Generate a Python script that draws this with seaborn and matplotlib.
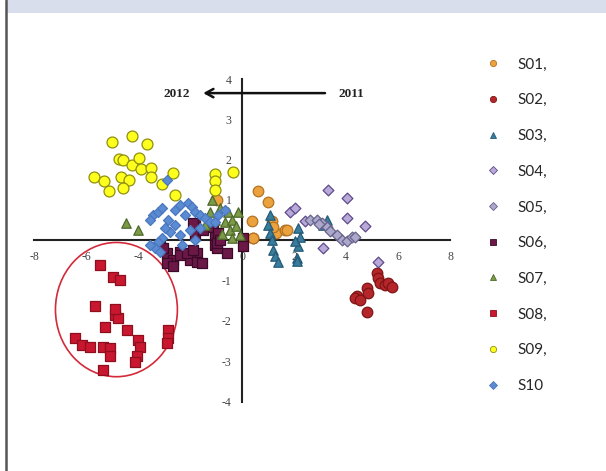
import numpy as np
import pandas as pd
import matplotlib
matplotlib.use("Agg")
import matplotlib.pyplot as plt
from matplotlib.patches import Ellipse, Rectangle
from matplotlib.lines import Line2D
import seaborn as sns

# ---- data: principal component scores per site ----
series = ["S01", "S02", "S03", "S04", "S05", "S06", "S07", "S08", "S09", "S10"]
legend_labels = ["S01,", "S02,", "S03,", "S04,", "S05,", "S06,", "S07,", "S08,", "S09,", "S10"]

s01_x = [0.63, 1.01, 0.37, 0.41, 1.14, 1.31, 1.65, 1.20, -0.95, 0.43, 1.72]
s01_y = [1.21, 0.94, 0.47, 0.05, 0.47, 0.18, 0.26, 0.34, 1.00, 0.05, 0.26]

s02_x = [5.18, 5.24, 5.31, 5.50, 5.63, 5.76, 4.80, 4.86, 4.41, 4.35, 4.54, 4.80]
s02_y = [-0.81, -0.94, -1.06, -1.10, -1.06, -1.15, -1.19, -1.31, -1.39, -1.43, -1.48, -1.77]

s03_x = [1.08, 1.01, 1.08, 1.14, 1.20, 1.27, 1.40, 2.17, 2.23, 2.17, 2.10, 2.04, 2.10, 3.26, 3.13]
s03_y = [0.63, 0.38, 0.18, 0.01, -0.24, -0.40, -0.55, 0.30, 0.09, -0.15, -0.44, -0.03, -0.52, 0.51, 0.38]

s04_x = [1.85, 2.04, 3.32, 4.03, 4.03, 4.73, 3.13, 5.24, 2.42]
s04_y = [0.71, 0.80, 1.25, 1.05, 0.55, 0.36, -0.18, -0.53, 0.47]

s05_x = [2.62, 2.87, 3.06, 3.26, 3.38, 3.64, 3.83, 4.03, 4.22, 4.35, 2.95]
s05_y = [0.51, 0.51, 0.43, 0.34, 0.22, 0.14, 0.01, -0.03, 0.09, 0.09, 0.40]

s06_x = [-1.81, -1.81, -1.04, -1.04, -1.74, -2.38, -2.90, -3.15, -2.64, -2.00, 0.05, 0.05,
         -0.59, -3.03, -2.90, -2.64, -2.38, -2.13, -1.74, -1.55, -1.87, -0.97, -0.97,
         -1.87, -1.49, -1.10, -0.91, -0.85]
s06_y = [0.38, 0.14, 0.14, -0.11, -0.32, -0.28, -0.32, -0.15, -0.48, -0.48, 0.05, -0.15,
         -0.32, -0.19, -0.57, -0.65, -0.36, -0.32, -0.53, -0.57, -0.24, -0.19, -0.07,
         0.43, 0.26, 0.34, 0.18, 0.01]

s07_x = [-4.46, -3.99, -1.23, -0.85, -0.54, -1.04, -0.65, -0.38, -1.42, -0.46, -0.23,
         -0.77, -0.08, -1.15, -0.38, -0.15]
s07_y = [0.44, 0.26, 0.71, 0.81, 0.71, 0.51, 0.46, 0.51, 0.38, 0.26, 0.36,
         0.16, 0.14, 1.00, 0.06, 0.71]

s08_x = [-5.46, -4.95, -4.69, -5.65, -4.88, -4.76, -4.88, -5.27, -4.44, -3.99, -3.92, -4.05,
         -4.12, -6.42, -6.17, -5.85, -5.33, -5.08, -5.08, -5.33, -2.83, -2.83, -2.90]
s08_y = [-0.61, -0.90, -0.98, -1.64, -1.85, -1.93, -1.70, -2.14, -2.22, -2.47, -2.64, -2.88,
         -3.01, -2.43, -2.59, -2.64, -2.64, -2.67, -2.88, -3.21, -2.22, -2.43, -2.55]

s09_x = [-4.99, -4.22, -3.67, -4.72, -4.59, -4.24, -3.95, -3.88, -3.50, -3.50, -5.69, -5.31,
         -5.12, -4.67, -4.33, -4.59, -3.09, -2.67, -2.58, -1.04, -1.04, -1.04, -0.36]
s09_y = [2.43, 2.59, 2.39, 2.01, 1.98, 1.87, 2.04, 1.77, 1.79, 1.57, 1.57, 1.48,
         1.23, 1.57, 1.50, 1.30, 1.40, 1.67, 1.13, 1.65, 1.46, 1.25, 1.69]

s10_x = [-3.42, -3.23, -3.08, -3.54, -2.85, -2.58, -2.38, -2.08, -1.92, -1.81, -1.62, -1.42,
         -1.23, -2.19, -2.58, -2.77, -3.08, -3.23, -3.35, -2.38, -2.00, -1.62, -1.04, -0.92,
         -0.65, -2.96, -2.31, -1.81, -3.54, -3.15, -2.90]
s10_y = [0.63, 0.71, 0.81, 0.51, 0.51, 0.76, 0.88, 0.93, 0.83, 0.71, 0.63, 0.56,
         0.46, 0.63, 0.38, 0.21, 0.06, -0.04, -0.19, 0.14, 0.26, 0.31, 0.46, 0.63,
         0.76, 0.31, -0.11, 0.01, -0.11, -0.29, 1.50]

xs = [s01_x, s02_x, s03_x, s04_x, s05_x, s06_x, s07_x, s08_x, s09_x, s10_x]
ys = [s01_y, s02_y, s03_y, s04_y, s05_y, s06_y, s07_y, s08_y, s09_y, s10_y]

fills = ["#EBA23E", "#B5262A", "#3A7C9C", "#B9A9D8", "#ABA8CC", "#6B1846",
         "#7C9A48", "#C8172F", "#FFFF1E", "#5B8BD2"]
edges = ["#B37322", "#7E1414", "#235B78", "#5E4A8C", "#66628A", "#3B0A28",
         "#4E6A2B", "#8E0F1E", "#8F8F10", "#4A78BE"]
markers = ["o", "o", "^", "D", "D", "s", "^", "s", "o", "D"]
sizes = [58, 58, 46, 30, 30, 48, 46, 48, 62, 26]

frames = []
for name, x, y in zip(series, xs, ys):
    frames.append(pd.DataFrame({"site": name, "pc1": x, "pc2": y}))
df = pd.concat(frames, ignore_index=True)

sns.set_style("white")
plt.rcParams["font.family"] = ["DejaVu Sans"]

fig = plt.figure(figsize=(6.06, 4.71), dpi=100)
ax = fig.add_axes([34 / 606, 1 - 401.5 / 471, 416 / 606, 322.5 / 471])

for i, name in enumerate(series):
    sns.scatterplot(data=df[df["site"] == name], x="pc1", y="pc2", ax=ax,
                    color=fills[i], marker=markers[i], s=sizes[i],
                    edgecolor=edges[i], linewidth=0.9, zorder=3 + i * 0.01,
                    clip_on=False, legend=False)

ax.set_xlim(-8, 8)
ax.set_ylim(-4, 4)
ax.set_xlabel("")
ax.set_ylabel("")

# axes crossing at the origin
for side in ["top", "right"]:
    ax.spines[side].set_visible(False)
ax.spines["left"].set_position(("data", 0))
ax.spines["bottom"].set_position(("data", 0))
for side in ["left", "bottom"]:
    ax.spines[side].set_color("#222222")
    ax.spines[side].set_linewidth(1.5)
    ax.spines[side].set_zorder(2)

xt = [-8, -6, -4, -2, 0, 2, 4, 6, 8]
yt = [-4, -3, -2, -1, 0, 1, 2, 3, 4]
ax.set_xticks(xt)
ax.set_yticks(yt)
ax.set_xticklabels([str(v) for v in xt])
ax.set_yticklabels(["" if v == 0 else str(v) for v in yt])
ax.tick_params(axis="both", direction="inout", length=5, width=1.2, color="#222222",
               labelsize=8.5, labelcolor="#444444")
ax.tick_params(axis="x", pad=5)
ax.tick_params(axis="y", pad=5)
for lab in ax.get_xticklabels() + ax.get_yticklabels():
    lab.set_family("Liberation Serif")
    lab.set_zorder(1)
ax.set_facecolor("none")

# year shift arrow
ax.annotate("", xy=(-1.6, 3.65), xytext=(3.3, 3.65),
            arrowprops=dict(arrowstyle="->,head_length=0.55,head_width=0.3",
                            lw=1.8, color="#111111"))
ax.text(-2.0, 3.62, "2012", ha="right", va="center", fontsize=9.5, fontweight="bold",
        family="Liberation Serif", color="#222222")
ax.text(3.7, 3.62, "2011", ha="left", va="center", fontsize=9.5, fontweight="bold",
        family="Liberation Serif", color="#222222")

# highlighted group
ax.add_patch(Ellipse((-4.83, -1.72), width=4.69, height=3.33, fill=False,
                     edgecolor="#D42A3A", lw=1.2, zorder=2))

# legend
handles = [Line2D([0], [0], marker=markers[i], linestyle="none", markersize=4.5,
                  markerfacecolor=fills[i], markeredgecolor=edges[i], markeredgewidth=0.6)
           for i in range(len(series))]
leg = fig.legend(handles, legend_labels, loc="upper left",
                 bbox_to_anchor=(478 / 606, 1 - 50 / 471), frameon=False,
                 prop={"family": "Lato", "size": 11}, labelspacing=1.42,
                 handlelength=1.0, handletextpad=1.1, borderpad=0)

# page band and margin rule
fig.patches.append(Rectangle((7 / 606, 1 - 13 / 471), 1, 13 / 471,
                             transform=fig.transFigure, facecolor="#D8DEEB",
                             edgecolor="none", zorder=0))
fig.lines.append(Line2D([6 / 606, 6 / 606], [0, 1], transform=fig.transFigure,
                        color="#555555", lw=1.8))

fig.savefig("out.png", dpi=100)
